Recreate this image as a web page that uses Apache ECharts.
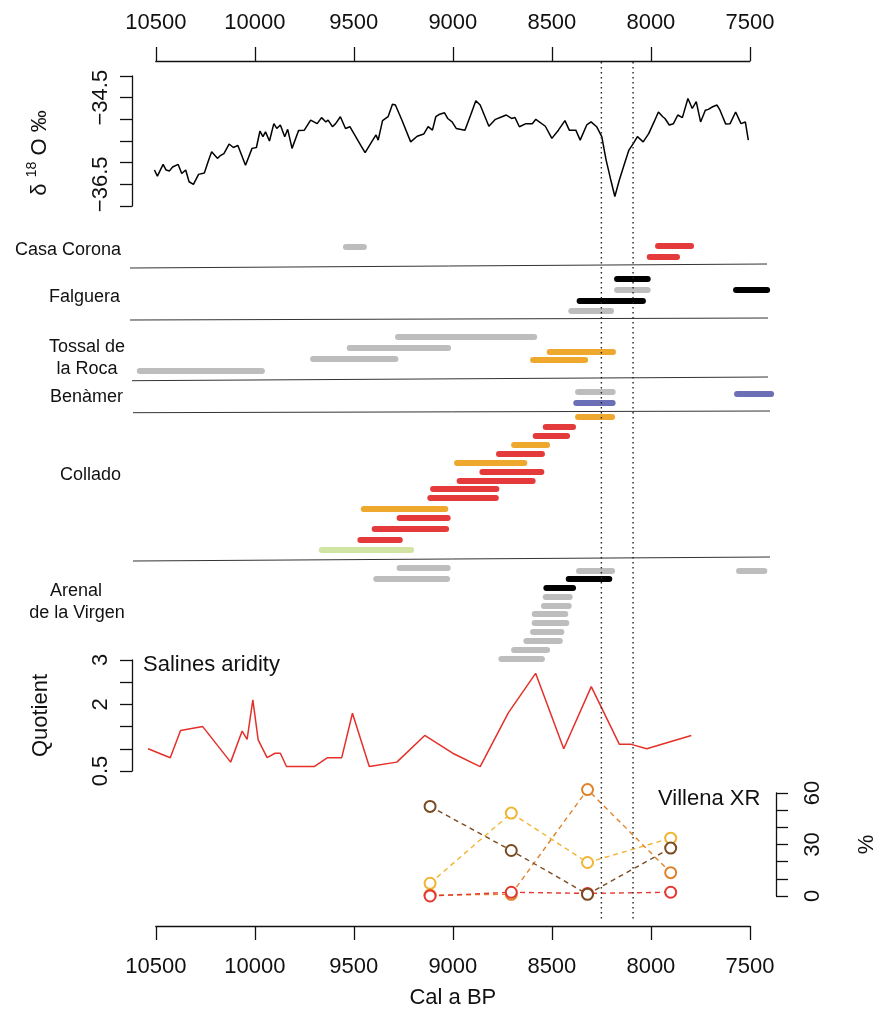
<!DOCTYPE html>
<html>
<head>
<meta charset="utf-8">
<title>8.2 ka event - Alicante sites</title>
<script src="https://cdn.jsdelivr.net/npm/echarts@6/dist/echarts.min.js"></script>
<style>
  html, body { margin: 0; padding: 0; background: #fff; }
  #chart { width: 891px; height: 1012px; }
</style>
</head>
<body>
<div id="chart"></div>
<script>
(function () {
  'use strict';

  // time scale, cal a BP
  var yearTicks = [10500, 10000, 9500, 9000, 8500, 8000, 7500];
  var eventYears = [8250, 8090];

  // d18O record
  var d18oYear = [10507, 10492, 10463, 10448, 10431, 10415, 10387, 10369, 10349, 10332,
    10310, 10284, 10255, 10233, 10218, 10189, 10172, 10156, 10130, 10108,
    10086, 10047, 10014, 9992, 9974, 9959, 9946, 9926, 9904, 9889,
    9871, 9849, 9834, 9812, 9779, 9750, 9718, 9685, 9663, 9641,
    9630, 9608, 9592, 9568, 9542, 9520, 9465, 9443, 9410, 9388,
    9377, 9355, 9327, 9305, 9290, 9257, 9213, 9180, 9147, 9125,
    9103, 9086, 9070, 9042, 9026, 9004, 8983, 8939, 8910, 8884,
    8862, 8818, 8785, 8752, 8730, 8704, 8686, 8664, 8631, 8599,
    8581, 8533, 8500, 8467, 8434, 8412, 8379, 8357, 8324, 8302,
    8274, 8248, 8226, 8204, 8182, 8160, 8133, 8111, 8089, 8068,
    8039, 8011, 7984, 7962, 7940, 7929, 7907, 7886, 7864, 7841,
    7813, 7791, 7771, 7749, 7725, 7710, 7688, 7666, 7651, 7622,
    7600, 7572, 7545, 7523, 7508];
  var d18oValue = [-36.17, -36.31, -36.04, -36.17, -36.19, -36.10, -36.04, -36.25, -36.17, -36.44,
    -36.50, -36.27, -36.24, -35.94, -35.75, -35.90, -35.83, -35.79, -35.57, -35.65,
    -35.60, -36.06, -35.67, -35.65, -35.27, -35.40, -35.29, -35.50, -35.10, -35.21,
    -35.13, -35.40, -35.23, -35.67, -35.26, -35.25, -35.02, -35.10, -34.96, -35.06,
    -35.02, -35.17, -35.10, -34.94, -35.21, -35.17, -35.60, -35.77, -35.52, -35.36,
    -35.48, -35.03, -34.94, -34.65, -34.67, -35.02, -35.52, -35.39, -35.34, -35.17,
    -35.25, -34.94, -34.89, -34.85, -34.98, -35.06, -35.21, -35.25, -34.90, -34.57,
    -34.67, -35.16, -35.00, -34.94, -34.90, -34.98, -34.96, -35.17, -35.10, -35.10,
    -35.00, -35.16, -35.44, -35.25, -35.03, -35.25, -35.25, -35.48, -35.13, -35.06,
    -35.17, -35.40, -35.94, -36.37, -36.78, -36.41, -36.02, -35.71, -35.56, -35.40,
    -35.52, -35.33, -35.06, -34.83, -34.94, -34.98, -35.13, -35.10, -34.90, -34.96,
    -34.52, -34.75, -34.59, -35.06, -34.79, -34.77, -34.71, -34.67, -34.79, -35.11,
    -35.10, -34.83, -35.10, -35.06, -35.48];
  var d18oTicksShown = [-34.5, -36.5];

  // Salines aridity quotient
  var salinesYear = [10539, 10427, 10375, 10263, 10122, 10064, 10039, 10010, 9983, 9938,
    9898, 9871, 9840, 9700, 9633, 9561, 9507, 9422, 9283, 9142,
    9001, 8862, 8720, 8582, 8440, 8301, 8159, 8099, 8021, 7796];
  var salinesValue = [1.0, 0.8, 1.41, 1.5, 0.7, 1.4, 1.21, 2.1, 1.2, 0.8,
    0.9, 0.9, 0.6, 0.6, 0.8, 0.8, 1.8, 0.6, 0.7, 1.3,
    0.9, 0.6, 1.81, 2.7, 1.0, 2.4, 1.1, 1.1, 1.0, 1.3];
  var salinesTicksShown = [3, 2, 0.5];

  // Villena XR (%)
  var villenaYear = [9115, 8705, 8320, 7900];
  var villenaYellow = [7.4, 48.3, 19.5, 33.7];
  var villenaOrange = [0.5, 1, 62, 13.6];
  var villenaRed = [0, 2.2, 1.5, 2.2];
  var villenaBrown = [52.2, 26.5, 1, 27.9];
  var villenaTicksShown = [0, 30, 60];

  // radiocarbon dates: [from, to, row, kind]
  var casaCorona = [
    [9555, 9434, 1.2, 'grey'],
    [7979, 7782, 1.1, 'red'],
    [8021, 7853, 2.2, 'red']
  ];
  var falguera = [
    [8186, 8001, 4.4, 'black'],
    [8186, 8001, 5.5, 'grey'],
    [7585, 7398, 5.5, 'black'],
    [8375, 8025, 6.6, 'black'],
    [8417, 8186, 7.6, 'grey']
  ];
  var tossal = [
    [9292, 8574, 10.2, 'grey'],
    [9536, 9009, 11.3, 'grey'],
    [8526, 8176, 11.7, 'orange'],
    [9721, 9275, 12.4, 'grey'],
    [8610, 8317, 12.5, 'orange'],
    [10596, 9949, 13.6, 'grey']
  ];
  var benamer = [
    [8383, 8178, 15.7, 'grey'],
    [7580, 7378, 15.9, 'blue'],
    [8392, 8178, 16.8, 'blue']
  ];
  var collado = [
    [8383, 8181, 18.2, 'orange'],
    [8546, 8378, 19.2, 'red'],
    [8597, 8408, 20.1, 'red'],
    [8706, 8509, 21.0, 'orange'],
    [8782, 8535, 21.9, 'red'],
    [8994, 8624, 22.8, 'orange'],
    [8866, 8538, 23.7, 'red'],
    [8981, 8582, 24.6, 'red'],
    [9115, 8765, 25.4, 'red'],
    [9129, 8768, 26.3, 'red'],
    [9465, 9023, 27.4, 'orange'],
    [9284, 9011, 28.3, 'red'],
    [9410, 9019, 29.4, 'red'],
    [9482, 9253, 30.5, 'red'],
    [9677, 9196, 31.5, 'green']
  ];
  var arenal = [
    [9284, 9011, 33.3, 'grey'],
    [8378, 8181, 33.6, 'grey'],
    [7570, 7412, 33.6, 'grey'],
    [9402, 9014, 34.4, 'grey'],
    [8430, 8195, 34.4, 'black'],
    [8543, 8378, 35.3, 'black'],
    [8546, 8395, 36.2, 'grey'],
    [8555, 8400, 37.1, 'grey'],
    [8602, 8417, 37.9, 'grey'],
    [8602, 8412, 38.8, 'grey'],
    [8610, 8437, 39.7, 'grey'],
    [8644, 8445, 40.6, 'grey'],
    [8706, 8509, 41.5, 'grey'],
    [8770, 8535, 42.4, 'grey']
  ];

  var kindColors = {
    grey: '#bdbdbd',
    black: '#000000',
    red: '#e43a3b',
    orange: '#eea82e',
    blue: '#6a6fb6',
    green: '#d2e4a4'
  };

  var FONT = 'Liberation Sans, Arial, Helvetica, sans-serif';
  var INK = '#111';
  var W = 891;
  var AX_LEFT = 155.8, AX_RIGHT = 749.9;       // where 10500 and 7500 sit
  var PANEL_LEFT = 132, PANEL_RIGHT = 776;
  var PX_PER_YEAR = (AX_RIGHT - AX_LEFT) / 3000;
  var panelMax = 10500 + (AX_LEFT - PANEL_LEFT) / PX_PER_YEAR;
  var panelMin = 7500 - (PANEL_RIGHT - AX_RIGHT) / PX_PER_YEAR;
  var BAR_WIDTH = 6;

  var chart = echarts.init(document.getElementById('chart'), null, {renderer: 'canvas'});

  var bars = [].concat(casaCorona, falguera, tossal, benamer, collado, arenal);

  function zip(xs, ys) {
    return xs.map(function (x, i) { return [x, ys[i]]; });
  }

  function onlyLabels(list) {
    return function (v) {
      for (var i = 0; i < list.length; i++) {
        if (Math.abs(v - list[i]) < 1e-6) {
          return String(list[i]).replace('-', '\u2212');
        }
      }
      return '';
    };
  }

  function yearLabel(v) {
    return yearTicks.indexOf(Math.round(v)) >= 0 ? String(Math.round(v)) : '';
  }

  function panelGrid(top, height) {
    return {left: PANEL_LEFT, right: W - PANEL_RIGHT, top: top, height: height, containLabel: false};
  }

  function hiddenYearAxis(gridIndex) {
    return {type: 'value', gridIndex: gridIndex, inverse: true, min: panelMin, max: panelMax, show: false};
  }

  function timeAxis(gridIndex, position, margin) {
    return {
      type: 'value', gridIndex: gridIndex, position: position, inverse: true,
      min: 7500, max: 10500, interval: 500,
      axisLine: {show: true, lineStyle: {color: INK, width: 1.3}},
      axisTick: {show: true, length: 14, lineStyle: {color: INK, width: 1.3}},
      axisLabel: {margin: margin, fontSize: 22, color: INK, fontFamily: FONT, formatter: yearLabel},
      splitLine: {show: false}
    };
  }

  function sideAxis(gridIndex, opts) {
    return {
      type: 'value', gridIndex: gridIndex, position: opts.position || 'left',
      min: opts.min, max: opts.max, interval: opts.interval,
      axisLine: {show: true, lineStyle: {color: INK, width: 1.3}},
      axisTick: {show: true, length: 12, lineStyle: {color: INK, width: 1.3}},
      axisLabel: {
        rotate: 90, margin: opts.margin, fontSize: 22, color: INK, fontFamily: FONT,
        formatter: onlyLabels(opts.shown), showMinLabel: true, showMaxLabel: true
      },
      splitLine: {show: false},
      name: opts.name || '',
      nameLocation: 'middle',
      nameGap: opts.nameGap || 0,
      nameRotate: 90,
      nameTextStyle: {fontSize: 22, color: INK, fontFamily: FONT}
    };
  }

  function renderBar(params, api) {
    var a = api.coord([api.value(0), api.value(2)]);
    var b = api.coord([api.value(1), api.value(2)]);
    var kind = bars[params.dataIndex][3];
    var half = BAR_WIDTH / 2;
    var x1 = Math.min(a[0], b[0]) + half;
    var x2 = Math.max(a[0], b[0]) - half;
    return {
      type: 'line',
      shape: {x1: x1, y1: a[1], x2: x2, y2: a[1]},
      style: {stroke: kindColors[kind], lineWidth: BAR_WIDTH, lineCap: 'round'}
    };
  }

  function renderEventLine(params, api) {
    var top = api.coord([api.value(0), 1]);
    var bottom = api.coord([api.value(0), 0]);
    return {
      type: 'line',
      shape: {x1: top[0], y1: top[1], x2: bottom[0], y2: bottom[1]},
      style: {stroke: '#222', lineWidth: 1.4, lineDash: [1.4, 3.6]}
    };
  }

  function villenaSeries(values, color) {
    return {
      type: 'line', xAxisIndex: 4, yAxisIndex: 4, data: zip(villenaYear, values),
      clip: false, symbol: 'emptyCircle', symbolSize: 11, showSymbol: true,
      itemStyle: {color: color, borderColor: color, borderWidth: 1.6},
      lineStyle: {color: color, width: 1.4, type: [5, 4]},
      animation: false
    };
  }

  function sep(x1, y1, x2, y2) {
    return {type: 'line', shape: {x1: x1, y1: y1, x2: x2, y2: y2}, style: {stroke: '#333', lineWidth: 1}, silent: true};
  }

  function label(text, x, y, align, size) {
    return {
      type: 'text', x: x, y: y, silent: true,
      style: {text: text, fill: INK, font: (size || 18) + 'px ' + FONT, textAlign: align || 'right', textVerticalAlign: 'middle'}
    };
  }

  var option = {
    backgroundColor: '#fff',
    animation: false,
    grid: [
      {left: AX_LEFT, right: W - AX_RIGHT, top: 60, height: 1},   // 0 top time axis
      panelGrid(76, 130),                                        // 1 d18O
      panelGrid(235, 430),                                       // 2 dated sites
      panelGrid(660, 111),                                       // 3 Salines
      panelGrid(793, 103),                                       // 4 Villena
      {left: AX_LEFT, right: W - AX_RIGHT, top: 925, height: 1},  // 5 bottom time axis
      panelGrid(62, 860)                                         // 6 event lines
    ],
    xAxis: [
      timeAxis(0, 'top', 26),
      hiddenYearAxis(1),
      hiddenYearAxis(2),
      hiddenYearAxis(3),
      hiddenYearAxis(4),
      Object.assign(timeAxis(5, 'bottom', 30), {
        name: 'Cal a BP', nameLocation: 'middle', nameGap: 61,
        nameTextStyle: {fontSize: 22, color: INK, fontFamily: FONT}
      }),
      hiddenYearAxis(6)
    ],
    yAxis: [
      {type: 'value', gridIndex: 0, show: false},
      sideAxis(1, {min: -37, max: -34, interval: 0.5, shown: d18oTicksShown, margin: 20}),
      {type: 'value', gridIndex: 2, inverse: true, min: 0, max: 43, show: false},
      sideAxis(3, {min: 0.5, max: 3, interval: 0.5, shown: salinesTicksShown, margin: 20,
        name: 'Quotient', nameGap: 80}),
      sideAxis(4, {position: 'right', min: 0, max: 60, interval: 10, shown: villenaTicksShown, margin: 26,
        name: '%', nameGap: 80}),
      {type: 'value', gridIndex: 5, show: false},
      {type: 'value', gridIndex: 6, min: 0, max: 1, show: false}
    ],
    series: [
      {
        name: 'd18O', type: 'line', xAxisIndex: 1, yAxisIndex: 1,
        data: zip(d18oYear, d18oValue), showSymbol: false, symbol: 'none',
        lineStyle: {color: '#000', width: 1.5}
      },
      {
        name: 'dates', type: 'custom', xAxisIndex: 2, yAxisIndex: 2,
        data: bars.map(function (d) { return [d[0], d[1], d[2]]; }),
        renderItem: renderBar, clip: false
      },
      {
        name: 'Salines', type: 'line', xAxisIndex: 3, yAxisIndex: 3,
        data: zip(salinesYear, salinesValue), showSymbol: false, symbol: 'none',
        lineStyle: {color: '#e5302a', width: 1.5}
      },
      villenaSeries(villenaYellow, '#f0b531'),
      villenaSeries(villenaOrange, '#e0822b'),
      villenaSeries(villenaRed, '#e5372d'),
      villenaSeries(villenaBrown, '#7a4b22'),
      {
        name: 'event', type: 'custom', xAxisIndex: 6, yAxisIndex: 6,
        data: eventYears.map(function (y) { return [y]; }),
        renderItem: renderEventLine, clip: false, z: 5
      }
    ],
    graphic: [
      sep(130, 268, 767, 264),
      sep(130, 320, 768, 318),
      sep(132, 380.7, 768, 377),
      sep(133, 412.7, 770, 411),
      sep(133, 561, 770, 557),
      label('Casa Corona', 121, 250),
      label('Falguera', 120, 297),
      label('Tossal de', 87, 347, 'center'),
      label('la Roca', 87, 369, 'center'),
      label('Benàmer', 123, 397),
      label('Collado', 121, 475),
      label('Arenal', 76, 591, 'center'),
      label('de la Virgen', 77, 613, 'center'),
      label('Salines aridity', 143, 665, 'left', 22),
      label('Villena XR', 658, 799, 'left', 22),
      {
        type: 'text', x: 38, y: 153, rotation: Math.PI / 2, silent: true,
        style: {
          text: '{a|δ }{b|18}{a| O ‰}',
          textAlign: 'center', textVerticalAlign: 'middle',
          rich: {
            a: {fontSize: 22, fontFamily: FONT, fill: INK, lineHeight: 26, verticalAlign: 'bottom'},
            b: {fontSize: 14, fontFamily: FONT, fill: INK, lineHeight: 26, verticalAlign: 'top'}
          }
        }
      }
    ]
  };

  chart.setOption(option);
})();
</script>
</body>
</html>
